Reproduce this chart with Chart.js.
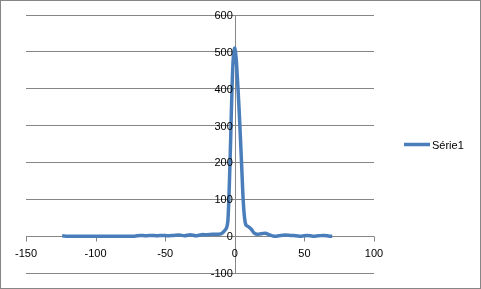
<!DOCTYPE html>
<html lang="fr">
<head>
<meta charset="UTF-8">
<title>Série1</title>
<script src="https://cdn.jsdelivr.net/npm/chart.js"></script>
<style>
  html, body { margin: 0; padding: 0; background: #fff; }
</style>
</head>
<body>
<canvas id="chart" width="481" height="289"></canvas>
<script>
// valeurs
const xValues = [-124, -120, -110, -100, -90, -80, -72, -68, -64, -60, -56, -52, -48, -44, -40, -36, -32, -28, -24, -20, -16, -12, -10, -8, -6, -5, -4, -3, -2, -1, 0, 1, 2, 3, 4, 5, 6, 7, 8, 10, 12, 14, 16, 18, 20, 22, 24, 26, 28, 30, 33, 36, 40, 44, 48, 52, 56, 60, 64, 68, 70];
const yValues = [1, 0, 0, 0, 0, 0, 0, 2, 1, 2, 1, 2, 1, 2, 3, 1, 4, 1, 4, 4, 5, 5, 6, 12, 22, 40, 130, 260, 400, 490, 510, 480, 420, 350, 270, 185, 100, 50, 30, 25, 18, 8, 5, 6, 7, 8, 5, 2, 0, 0, 2, 3, 2, 1, 0, 2, 0, 1, 2, 0, 0];
const seriesName = 'Série1';
const xTicks = [-150, -100, -50, 0, 50, 100];
const yTicks = [-100, 0, 100, 200, 300, 400, 500, 600];

const points = xValues.map((x, i) => ({ x: x, y: yValues[i] }));
const FONT = '11px "Liberation Sans", Arial, sans-serif';

// étiquettes des axes, lignes d'axe, légende et cadre
const excelAxes = {
  id: 'excelAxes',
  beforeDatasetsDraw(chart) {
    const ctx = chart.ctx;
    const xs = chart.scales.x, ys = chart.scales.y;
    const x0 = Math.round(xs.getPixelForValue(0)) + 0.5;
    const y0 = Math.round(ys.getPixelForValue(0)) + 0.5;
    ctx.save();
    ctx.strokeStyle = '#868686';
    ctx.lineWidth = 1;
    ctx.beginPath();
    ctx.moveTo(x0, ys.top);
    ctx.lineTo(x0, ys.bottom);
    ctx.moveTo(xs.left, y0);
    ctx.lineTo(xs.right, y0);
    xTicks.forEach(t => {
      const px = Math.round(xs.getPixelForValue(t)) + 0.5;
      ctx.moveTo(px, y0);
      ctx.lineTo(px, y0 + 5);
    });
    ctx.stroke();
    ctx.restore();
  },
  afterDraw(chart) {
    const ctx = chart.ctx;
    const xs = chart.scales.x, ys = chart.scales.y;
    const x0 = xs.getPixelForValue(0);
    const y0 = ys.getPixelForValue(0);
    ctx.save();
    ctx.font = FONT;
    ctx.fillStyle = '#000';
    ctx.textBaseline = 'middle';
    ctx.textAlign = 'right';
    yTicks.forEach(t => ctx.fillText(String(t), x0 - 2, ys.getPixelForValue(t) + 1));
    ctx.textAlign = 'center';
    xTicks.forEach(t => ctx.fillText(String(t), xs.getPixelForValue(t), y0 + 18));
    // légende
    const ly = Math.round((ys.top + ys.bottom) / 2) + 0.5;
    ctx.strokeStyle = '#4A7EBB';
    ctx.lineWidth = 3.5;
    ctx.beginPath();
    ctx.moveTo(404, ly);
    ctx.lineTo(430, ly);
    ctx.stroke();
    ctx.textAlign = 'left';
    ctx.fillText(seriesName, 432, ly + 1);
    // cadre
    ctx.strokeStyle = '#868686';
    ctx.lineWidth = 1;
    ctx.strokeRect(0.5, 0.5, chart.width - 1, chart.height - 1);
    ctx.restore();
  }
};

new Chart(document.getElementById('chart'), {
  type: 'scatter',
  data: {
    datasets: [{
      label: seriesName,
      data: points,
      showLine: true,
      borderColor: '#4A7EBB',
      borderWidth: 3.5,
      pointRadius: 0,
      tension: 0.3,
      fill: false
    }]
  },
  options: {
    responsive: false,
    animation: false,
    layout: { padding: { left: 26, top: 15, right: 107, bottom: 16 } },
    plugins: { legend: { display: false }, tooltip: { enabled: false } },
    scales: {
      x: {
        type: 'linear', min: -150, max: 100,
        display: false,
        afterBuildTicks: s => { s.ticks = xTicks.map(v => ({ value: v })); }
      },
      y: {
        type: 'linear', min: -100, max: 600,
        afterBuildTicks: s => { s.ticks = yTicks.map(v => ({ value: v })); },
        grid: { color: '#868686', drawTicks: false },
        border: { display: false },
        ticks: { display: false }
      }
    }
  },
  plugins: [excelAxes]
});
</script>
</body>
</html>
